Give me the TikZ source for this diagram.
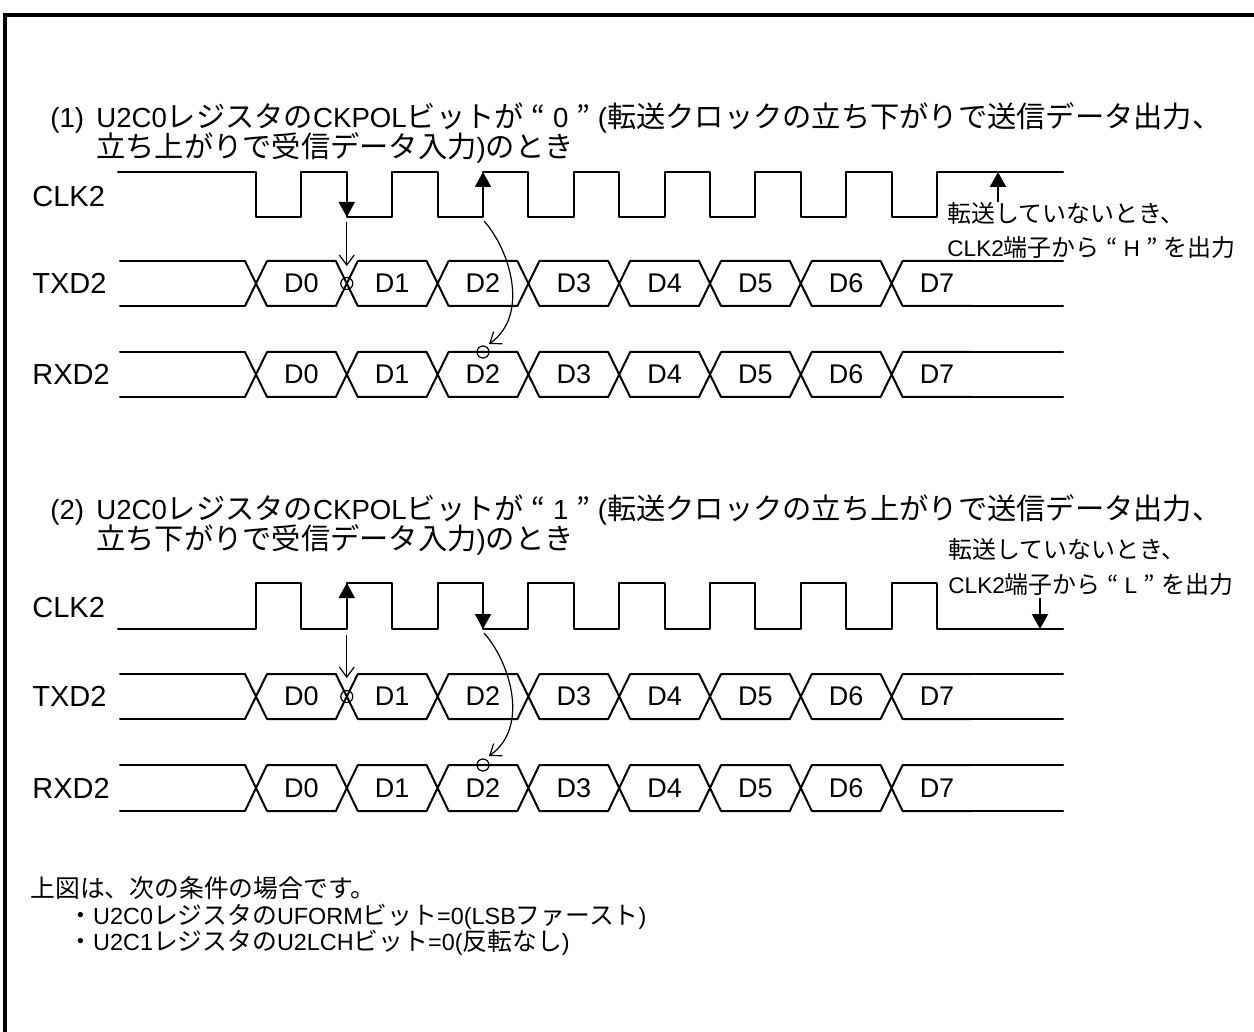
\documentclass[tikz,border=0pt]{standalone}
\usepackage{fontspec}
\setmainfont{Liberation Sans}
\newfontfamily\jp{Noto Sans CJK JP}[Scale=1.06]
\usepackage{tikz}
\usetikzlibrary{arrows.meta}
\lineskiplimit=-20pt

\tikzset{
  sig/.style={line width=1pt,line cap=round,line join=round},
  edgemark/.style={line width=1pt,-{Triangle[length=7.5pt,width=8pt]}},
  thinarrow/.style={line width=0.6pt,-{Straight Barb[length=5pt,width=7.5pt]}},
  ring/.style={line width=0.6pt},
  ttl/.style={anchor=base west,inner sep=0pt,align=left,font=\fontsize{13.8pt}{15pt}\selectfont},
  lbl/.style={anchor=base west,inner sep=0pt,font=\fontsize{14.5pt}{17pt}\selectfont},
  dlbl/.style={anchor=center,inner sep=0pt,font=\fontsize{13.5pt}{16pt}\selectfont},
  note/.style={anchor=base west,inner sep=0pt,text height=0.95em,text depth=0.13em,font=\fontsize{11.3pt}{14pt}\selectfont},
  cond/.style={anchor=base west,inner sep=0pt,text height=0.9em,text depth=0.13em,font=\fontsize{11.7pt}{14pt}\selectfont},
}

\begin{document}
\begin{tikzpicture}[x=0.5pt,y=0.5pt,yscale=-1,xscale=1]
        \useasboundingbox (0,0) rectangle (1254,1032);
        %Frame
        \draw [line width=1.7pt] (5,1040) -- (5,15) -- (1260,15) ;

        % Text Node
        \draw (50,127.7) node [ttl] (t1num) {(1)};
        % Text Node
        \draw (96,157.7) node [ttl] (t1) {U2C0{\jp レジスタの}CKPOL{\jp ビットが} {\jp “} 0 {\jp ”}\hspace{4pt}({\jp 転送クロックの立ち下がりで送信データ出力、}\\{\jp 立ち上がりで受信データ入力})\jp のとき};

        % Text Node
        \draw (32,206.2) node [lbl] (clka) {CLK2};
        % Text Node
        \draw (32,293.7) node [lbl] (txda) {TXD2};
        % Text Node
        \draw (32,384.7) node [lbl] (rxda) {RXD2};

        %Clock (1)
        \draw [sig] (118,172) -| (256,217) -| (301.4,172) -| (346.8,217) -| (392.2,172) -| (437.6,217) -| (483,172) -| (528.4,217) -| (573.8,172) -| (619.2,217) -| (664.6,172) -| (710,217) -| (755.4,172) -| (800.8,217) -| (846.2,172) -| (891.6,217) -| (937,172) -- (1063,172) ;

        %Clock (2)
        \draw [sig] (118,629) -| (256,583) -| (301.4,629) -| (346.8,583) -| (392.2,629) -| (437.6,583) -| (483,629) -| (528.4,583) -| (573.8,629) -| (619.2,583) -| (664.6,629) -| (710,583) -| (755.4,629) -| (800.8,583) -| (846.2,629) -| (891.6,583) -| (937,629) -- (1063,629) ;

        %Data lines
        \foreach \yt/\yb/\bn in {261/306/ta,352/397/ra,674/719/tb,765/811/rb}{
          \draw [sig] (120,\yt) -- (245,\yt) (120,\yb) -- (245,\yb) (971.4,\yt) -- (1063,\yt) (971.4,\yb) -- (1063,\yb) ;
          \foreach \c [count=\i from 0] in {256,346.8,437.6,528.4,619.2,710,800.8,891.6}{
            \draw [sig] (\c-11,\yt) -- (\c+11,\yb) (\c-11,\yb) -- (\c+11,\yt) (\c+11,\yt) -- (\c+79.8,\yt) (\c+11,\yb) -- (\c+79.8,\yb) ;
            \draw (\c+45.4,{(\yt+\yb)/2}) node [dlbl] (\bn\i) {D\i};
          }
        }

        %Marks (1)
        \coordinate (fa) at (346.8,217) ;
        \coordinate (ra) at (483,172) ;
        \coordinate (txa) at (346.8,266) ;
        \coordinate (rxa) at (489,344) ;
        \draw [edgemark] (346.8,195) -- (fa) ;
        \draw [edgemark] (483,195) -- (ra) ;
        \draw [thinarrow] (346.8,222) -- (txa) ;
        \draw [thinarrow] (484,221) .. controls (510,250) and (530,315) .. (rxa) ;
        \draw [ring] (346.8,283.5) circle (6) ;
        \draw [ring] (483,352) circle (6) ;

        % Text Node
        \draw (947,222.1) node [note] (n1a) {\jp 転送していないとき、};
        % Text Node
        \draw (947,256.1) node [note] (n1b) {CLK2{\jp 端子から} {\jp “} H {\jp ”} {\jp を出力}};
        \coordinate (ha) at (998,172) ;
        \draw [edgemark] (998,202) -- (ha) ;

        % Text Node
        \draw (50,519.7) node [ttl] (t2num) {(2)};
        % Text Node
        \draw (96,549.7) node [ttl] (t2) {U2C0{\jp レジスタの}CKPOL{\jp ビットが} {\jp “} 1 {\jp ”}\hspace{4pt}({\jp 転送クロックの立ち上がりで送信データ出力、}\\{\jp 立ち下がりで受信データ入力})\jp のとき};

        % Text Node
        \draw (32,617.2) node [lbl] (clkb) {CLK2};
        % Text Node
        \draw (32,706.7) node [lbl] (txdb) {TXD2};
        % Text Node
        \draw (32,798.2) node [lbl] (rxdb) {RXD2};

        %Marks (2)
        \coordinate (rb) at (346.8,583) ;
        \coordinate (fb) at (483,629) ;
        \coordinate (txb) at (346.8,678) ;
        \coordinate (rxb) at (489,756) ;
        \draw [edgemark] (346.8,606) -- (rb) ;
        \draw [edgemark] (483,606) -- (fb) ;
        \draw [thinarrow] (346.8,635) -- (txb) ;
        \draw [thinarrow] (484,633) .. controls (510,662) and (530,727) .. (rxb) ;
        \draw [ring] (346.8,696.5) circle (6) ;
        \draw [ring] (483,765) circle (6) ;

        % Text Node
        \draw (948,558.1) node [note] (n2a) {\jp 転送していないとき、};
        % Text Node
        \draw (948,593.1) node [note] (n2b) {CLK2{\jp 端子から} {\jp “} L {\jp ”} {\jp を出力}};
        \coordinate (lb) at (1040,629) ;
        \draw [edgemark] (1040,598) -- (lb) ;

        % Text Node
        \draw (30,897.5) node [cond] (c0) {\jp 上図は、次の条件の場合です。};
        % Text Node
        \draw (68,924.5) node [cond] (c1) {{\jp ・}U2C0{\jp レジスタの}UFORM{\jp ビット}=0(LSB{\jp ファースト})};
        % Text Node
        \draw (68,950.5) node [cond] (c2) {{\jp ・}U2C1{\jp レジスタの}U2LCH{\jp ビット}=0({\jp 反転なし})};
\end{tikzpicture}
\end{document}
